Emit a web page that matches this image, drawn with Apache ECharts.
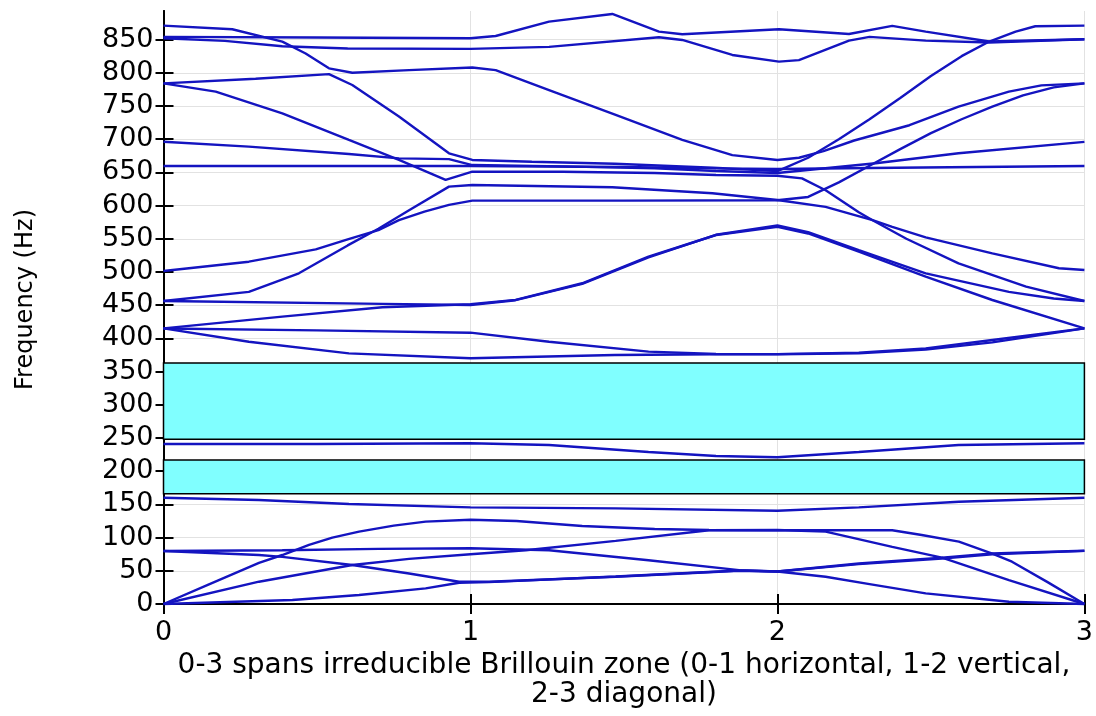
<!DOCTYPE html>
<html>
<head>
<meta charset="utf-8">
<script src="https://cdn.jsdelivr.net/npm/echarts@6/dist/echarts.min.js"></script>
<style>
html,body{margin:0;padding:0;background:#fff;}
#chart{width:1096px;height:716px;}
</style>
</head>
<body>
<div id="chart"></div>
<script>
// Tick labels
const xTicks = [0, 1, 2, 3];
const yTicks = [0, 50, 100, 150, 200, 250, 300, 350, 400, 450, 500, 550, 600, 650, 700, 750, 800, 850];

// Band gaps [low, high] in Hz
const bandGaps = [[248, 363], [166, 217]];

// Dispersion branches: [wave-vector path position, frequency Hz]
const b01 = [[0,0],[0.15,30],[0.311,62],[0.387,73.8],[0.474,89],[0.55,100],[0.637,109],[0.75,118],[0.854,124],[1.0,127],[1.15,125],[1.364,117.5],[1.6,113],[1.777,111.4],[2.0,111],[2.2,111],[2.374,111],[2.47,104],[2.591,94],[2.70,76],[2.764,63.7],[2.88,33],[3,0]];
const b02 = [[0,0],[0.311,33.6],[0.615,58.7],[0.8,68],[1.0,75],[1.18,81],[1.473,95],[1.777,111],[2.0,111.4],[2.157,109],[2.374,86],[2.536,69.8],[2.754,36],[3,0]];
const b03 = [[0,79.8],[0.387,81],[0.7,83],[1.0,83.9],[1.256,81],[1.58,66],[1.875,51],[2.0,49],[2.265,61],[2.536,69.8],[2.70,76],[3,80.3]];
const b04 = [[0,79.8],[0.311,73.8],[0.387,71],[0.615,58.7],[0.8,46],[0.963,33.6],[1.06,33.6],[1.473,41],[1.875,50],[2.0,49],[2.265,60],[2.536,68.5],[2.70,75],[3,80]];
const b05 = [[0,0],[0.42,6],[0.637,13.5],[0.854,23.6],[0.963,32],[1.06,33],[1.473,41.5],[1.875,50.5],[2.0,49],[2.157,41],[2.3,30],[2.483,16],[2.754,3.5],[3,0]];
const b06 = [[0,160],[0.311,156.6],[0.604,150.6],[1.0,145.6],[1.473,144],[2.0,140.5],[2.265,145.6],[2.591,154],[3,160]];
const b07 = [[0,241],[0.5,241],[1.0,242],[1.256,239.5],[1.58,229],[1.8,223],[2.0,221],[2.265,229],[2.59,239.5],[3,242]];
const b08 = [[0,415],[0.278,395],[0.604,377.5],[1.0,370],[1.47,375],[1.8,376],[2.0,376],[2.265,377.5],[2.483,383],[2.7,394],[3,415]];
const b09 = [[0,415],[0.5,412],[1.0,408.6],[1.256,395],[1.58,380],[1.8,376.5],[2.0,376.3],[2.265,378.5],[2.483,385],[2.7,397.6],[3,415]];
const b10 = [[0,415],[0.387,432.7],[0.713,446.8],[1.0,451.5],[1.147,458],[1.364,483],[1.58,523],[1.8,555.7],[2.0,568],[2.1,558],[2.265,530.6],[2.483,493],[2.7,457.8],[3,415]];
const b11 = [[0,456.3],[0.713,452],[1.0,450.3],[1.147,457.5],[1.364,482],[1.58,522],[1.8,556],[2.0,570],[2.1,560],[2.265,533],[2.483,498],[2.754,470],[2.9,460],[3,456.3]];
const b12 = [[0,456.3],[0.278,470],[0.441,498],[0.6,540],[0.70,565],[0.80,593],[0.93,628.5],[1.006,631],[1.462,627.5],[1.788,618.5],[2.0,608.4],[2.157,598],[2.31,578],[2.374,568],[2.483,552],[2.70,528],[2.917,505.6],[3,503]];
const b13 = [[0,501.5],[0.278,515.5],[0.496,534],[0.6,549],[0.70,563],[0.767,578],[0.85,591],[0.93,601],[1.006,607.4],[1.5,607.4],[2.0,608],[2.1,613],[2.2,635],[2.3,660],[2.4,685],[2.5,709],[2.6,730],[2.7,749],[2.8,766],[2.9,778],[3,784]];
const b14 = [[0,784],[0.17,771.5],[0.387,739],[0.604,698.8],[0.767,668.7],[0.919,638.6],[1.006,651],[1.3,651],[1.6,649],[1.8,646],[2.0,645],[2.08,641],[2.157,623],[2.265,590],[2.31,578],[2.42,550],[2.59,513],[2.81,478],[3,456.3]];
const b15 = [[0,696],[0.278,688.7],[0.604,677.7],[0.767,671],[0.93,670],[1.006,661],[1.3,659],[1.6,656],[1.8,652],[2.0,649],[2.32,663.7],[2.59,678.7],[3,696]];
const b16 = [[0,784],[0.3,791],[0.539,798],[0.615,781.6],[0.767,734],[0.93,678.7],[1.006,668.7],[1.2,666],[1.47,663],[1.79,657],[2.0,652],[2.1,672],[2.2,700],[2.3,730],[2.4,762],[2.5,795],[2.6,825],[2.69,847],[2.776,862],[2.84,870],[3,871]];
const b17 = [[0,659.6],[1.0,659.6],[1.5,658],[1.8,656],[2.0,655],[2.3,656.5],[3,659.6]];
const b18 = [[0,871],[0.224,865.5],[0.387,846.8],[0.463,829],[0.539,806.7],[0.615,800],[0.8,804],[1.006,808],[1.082,804],[1.256,774],[1.473,736.4],[1.69,698.8],[1.853,676],[2.0,668.7],[2.07,672],[2.15,682],[2.25,698],[2.43,721],[2.59,749],[2.754,771.5],[2.86,781],[3,784]];
const b19 = [[0,854],[0.5,853],[1.0,852],[1.082,855.4],[1.256,877],[1.462,888.5],[1.614,862],[1.69,858],[2.005,865.5],[2.233,858.4],[2.374,870.5],[2.483,862],[2.69,847],[3,850.4]];
const b20 = [[0,852],[0.2,848],[0.387,840],[0.6,836.5],[1.0,836],[1.256,839],[1.614,853.4],[1.69,849.4],[1.853,826.8],[2.005,816.7],[2.07,819],[2.233,848.4],[2.3,854],[2.483,848.4],[2.69,845.5],[3,850.4]];

const branches = [b01,b02,b03,b04,b05,b06,b07,b08,b09,b10,b11,b12,b13,b14,b15,b16,b17,b18,b19,b20];

const FONT = 'DejaVu Sans';
const LINE_COLOR = '#1414c0';

const chart = echarts.init(document.getElementById('chart'), null, {renderer: 'canvas'});

const series = [{
  type: 'line',
  data: [],
  silent: true,
  z: 1,
  markArea: {
    silent: true,
    itemStyle: {color: '#80ffff', borderColor: '#000', borderWidth: 1.5},
    data: bandGaps.map(g => [{xAxis: xTicks[0], yAxis: g[0]}, {xAxis: xTicks[xTicks.length - 1], yAxis: g[1]}])
  }
}];
branches.forEach(b => series.push({
  type: 'line',
  data: b,
  showSymbol: false,
  silent: true,
  z: 3,
  lineStyle: {color: LINE_COLOR, width: 2.4},
  animation: false
}));

const tickStyle = {color: '#000', width: 2};
chart.setOption({
  animation: false,
  grid: {left: 163.5, right: 10, top: 11, bottom: 108, containLabel: false},
  xAxis: [{
    type: 'value', min: 0, max: 3, interval: 1, position: 'bottom',
    name: '0-3 spans irreducible Brillouin zone (0-1 horizontal, 1-2 vertical,\n2-3 diagonal)',
    nameLocation: 'middle', nameGap: 43,
    nameTextStyle: {fontFamily: FONT, fontSize: 28, color: '#000', lineHeight: 29, verticalAlign: 'top'},
    axisLine: {show: true, lineStyle: {color: '#000', width: 2}},
    axisTick: {show: true, inside: true, length: 10, lineStyle: tickStyle},
    axisLabel: {fontFamily: FONT, fontSize: 27, color: '#000', margin: 11},
    splitLine: {show: true, lineStyle: {color: '#e2e2e2', width: 1}}
  }, {
    type: 'value', min: 0, max: 3, interval: 1, position: 'top',
    axisLine: {show: true, lineStyle: {color: '#000', width: 2}},
    axisTick: {show: true, inside: true, length: 10, lineStyle: tickStyle},
    axisLabel: {show: false},
    splitLine: {show: false}
  }],
  yAxis: [{
    type: 'value', min: -6, max: 893, position: 'left',
    name: 'Frequency (Hz)', nameLocation: 'middle', nameGap: 126,
    nameTextStyle: {fontFamily: FONT, fontSize: 24, color: '#000', padding: [0, 0, 0, 20]},
    axisLine: {show: true, lineStyle: {color: '#000', width: 2}},
    axisTick: {show: true, inside: true, length: 10, lineStyle: tickStyle, customValues: yTicks},
    axisLabel: {fontFamily: FONT, fontSize: 27, color: '#000', margin: 10, customValues: yTicks},
    splitLine: {show: true, lineStyle: {color: '#e2e2e2', width: 1}}
  }, {
    type: 'value', min: -6, max: 893, position: 'right',
    axisLine: {show: true, lineStyle: {color: '#000', width: 2}},
    axisTick: {show: true, inside: true, length: 8, lineStyle: tickStyle, customValues: yTicks},
    axisLabel: {show: false},
    splitLine: {show: false}
  }],
  series: series
});
</script>
</body>
</html>
